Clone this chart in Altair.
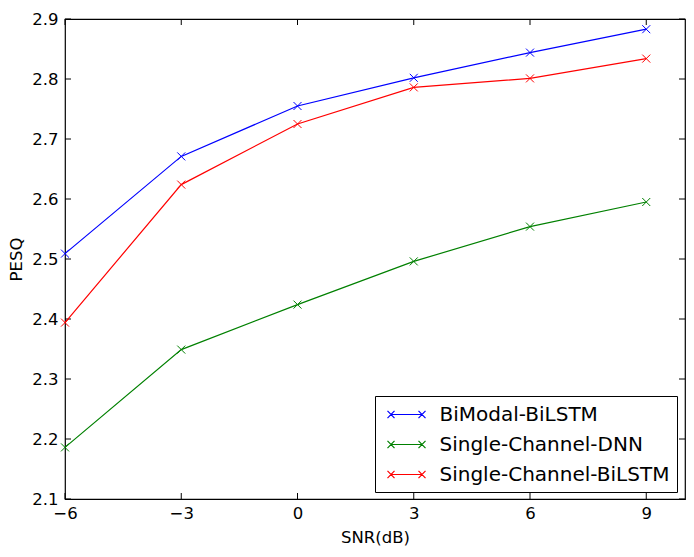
import altair as alt
import pandas as pd

snr = [-6, -3, 0, 3, 6, 9]
bimodal_bilstm = [2.509, 2.671, 2.755, 2.802, 2.844, 2.883]
single_dnn = [2.186, 2.349, 2.424, 2.496, 2.554, 2.595]
single_bilstm = [2.394, 2.624, 2.725, 2.786, 2.801, 2.834]

series_names = ["BiModal-BiLSTM", "Single-Channel-DNN", "Single-Channel-BiLSTM"]
series_colors = ["#0000ff", "#008000", "#ff0000"]

x_ticks = [-6, -3, 0, 3, 6, 9]
y_ticks = [2.1, 2.2, 2.3, 2.4, 2.5, 2.6, 2.7, 2.8, 2.9]

rows = []
for name, vals in zip(series_names, [bimodal_bilstm, single_dnn, single_bilstm]):
    for s, v in zip(snr, vals):
        rows.append({"SNR": s, "PESQ": v, "Model": name})
df = pd.DataFrame(rows)

FONT = "DejaVu Sans"
X_PATH = "M-1,-1L1,1M-1,1L1,-1"
LEG_PATH = "M-1.55,0L1.55,0M-1.9,-0.36L-1.2,0.36M-1.9,0.36L-1.2,-0.36M1.2,-0.36L1.9,0.36M1.2,0.36L1.9,-0.36"

xscale = alt.Scale(domain=[-6, 10], nice=False, zero=False)
yscale = alt.Scale(domain=[2.1, 2.9], nice=False, zero=False)

color = alt.Color(
    "Model:N",
    scale=alt.Scale(domain=series_names, range=series_colors),
    legend=alt.Legend(
        title=None,
        orient="none",
        legendX=310,
        legendY=377,
        symbolType=LEG_PATH,
        symbolSize=400,
        symbolStrokeWidth=1.2,
        symbolFillColor="transparent",
        symbolOffset=13,
        labelOffset=22,
        labelFontSize=20,
        labelFont=FONT,
        labelColor="black",
        padding=7.5,
        rowPadding=9,
        strokeColor="black",
        fillColor="white",
        cornerRadius=0,
        labelLimit=400,
    ),
)

xenc = alt.X(
    "SNR:Q",
    scale=xscale,
    axis=alt.Axis(
        values=x_ticks, format="d", title="SNR(dB)", grid=False, ticks=False,
        domain=False, labelFlush=False, labelOverlap=False,
        labelPadding=6, titlePadding=7.5, labelFontSize=16.5,
        titleFontSize=16.5, titleFontWeight="normal", labelFont=FONT, titleFont=FONT,
        labelColor="black", titleColor="black",
    ),
)
yenc = alt.Y(
    "PESQ:Q",
    scale=yscale,
    axis=alt.Axis(
        values=y_ticks, format=".1f", title="PESQ", grid=False, ticks=False,
        domain=False, labelFlush=False, labelOverlap=False,
        labelPadding=7, titlePadding=7, labelFontSize=16.5,
        titleFontSize=16.5, titleFontWeight="normal", labelFont=FONT, titleFont=FONT,
        labelColor="black", titleColor="black",
    ),
)

lines = alt.Chart(df).mark_line(strokeWidth=1.2).encode(
    x=xenc, y=yenc, color=color, order=alt.Order("SNR:Q")
)
points = alt.Chart(df).mark_point(
    shape=X_PATH, filled=False, size=64, strokeWidth=1, opacity=1
).encode(x=alt.X("SNR:Q", scale=xscale), y=alt.Y("PESQ:Q", scale=yscale),
         color=alt.Color("Model:N", scale=alt.Scale(domain=series_names, range=series_colors), legend=None))

xt = pd.DataFrame({"SNR": x_ticks})
yt = pd.DataFrame({"PESQ": y_ticks})
tick_bottom = alt.Chart(xt).mark_rule(color="black", strokeWidth=1, opacity=1).encode(
    x=alt.X("SNR:Q", scale=xscale), y=alt.value(480), y2=alt.value(474))
tick_top = alt.Chart(xt).mark_rule(color="black", strokeWidth=1, opacity=1).encode(
    x=alt.X("SNR:Q", scale=xscale), y=alt.value(0), y2=alt.value(6))
tick_left = alt.Chart(yt).mark_rule(color="black", strokeWidth=1, opacity=1).encode(
    y=alt.Y("PESQ:Q", scale=yscale), x=alt.value(0), x2=alt.value(6))
tick_right = alt.Chart(yt).mark_rule(color="black", strokeWidth=1, opacity=1).encode(
    y=alt.Y("PESQ:Q", scale=yscale), x=alt.value(620), x2=alt.value(614))

chart = alt.layer(tick_bottom, tick_top, tick_left, tick_right, lines, points).properties(
    width=620,
    height=480,
    background="white",
    autosize=alt.AutoSizeParams(type="none"),
    padding={"left": 57, "top": 11, "right": 1, "bottom": 50},
).configure_view(
    stroke="black", strokeWidth=1.2
)

chart.save("out.html", embed_options={"renderer": "svg", "actions": False})
